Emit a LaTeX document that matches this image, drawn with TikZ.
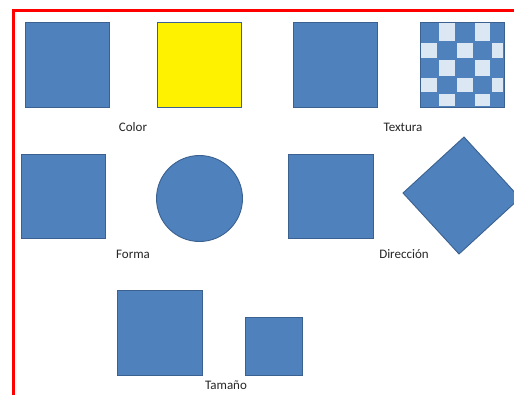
\documentclass[tikz,border=0pt]{standalone}
\usepackage{fontspec}
\setmainfont{Carlito}
\definecolor{ofblue}{HTML}{4F81BD}
\definecolor{ofedge}{HTML}{3A6190}
\definecolor{ltcell}{HTML}{DCE7F4}
\definecolor{txtgray}{HTML}{262626}
\tikzset{
  shp/.style={fill=ofblue, draw=ofedge, line width=0.9pt},
  lbl/.style={font=\fontsize{13}{15}\selectfont, text=txtgray, inner sep=0pt},
  cell/.style={fill=ltcell, draw=none}
}
\begin{document}
\begin{tikzpicture}[x=1pt,y=-1pt]
\useasboundingbox (0,0) rectangle (514,394);
\fill[white] (0,0) rectangle (514,394);
% red frame
\draw[red, line width=2.5pt] (13.5,400) -- (13.5,10.5) -- (520,10.5);
% row 1
\draw[shp] (25,22) rectangle (109,107);
\draw[shp, fill=yellow] (157,22) rectangle (241,107);
\draw[shp] (293,22) rectangle (377,107);
% checker
\begin{scope}
\draw[shp] (420,22) rectangle (504,107);
\clip (420,22) rectangle (504,107);
\foreach \r/\ya/\yb in {0/22/41.7,1/41.7/59,2/59/76.7,3/76.7/93.3,4/93.3/107}{
  \foreach \c/\xa/\xb in {0/420/438,1/438/456,2/456/473.5,3/473.5/491,4/491/504}{
    \pgfmathtruncatemacro{\myparity}{mod(\r+\c,2)}
    \ifnum\myparity=1
      \fill[cell] (\xa+1,\ya+1) rectangle (\xb-1,\yb-1);
    \fi
  }
}
\end{scope}
\draw[ofedge, line width=0.9pt] (420,22) rectangle (504,107);
\node[lbl] (color) at (133,127) {Color};
\node[lbl] (textura) at (403,127) {Textura};
% row 2
\draw[shp] (21,154) rectangle (105,238);
\draw[shp] (199.5,198.5) circle (43);
\draw[shp] (288,154) rectangle (373,238);
\draw[shp] (464,137) -- (403,193) -- (459,254) -- (520,198) -- cycle;
\node[lbl] (forma) at (133,254) {Forma};
\node[lbl] (direccion) at (404,254) {Dirección};
% row 3
\draw[shp] (117,290) rectangle (202,375);
\draw[shp] (245,317) rectangle (302,375);
\node[lbl] (tamano) at (226,385) {Tamaño};
\end{tikzpicture}
\end{document}
